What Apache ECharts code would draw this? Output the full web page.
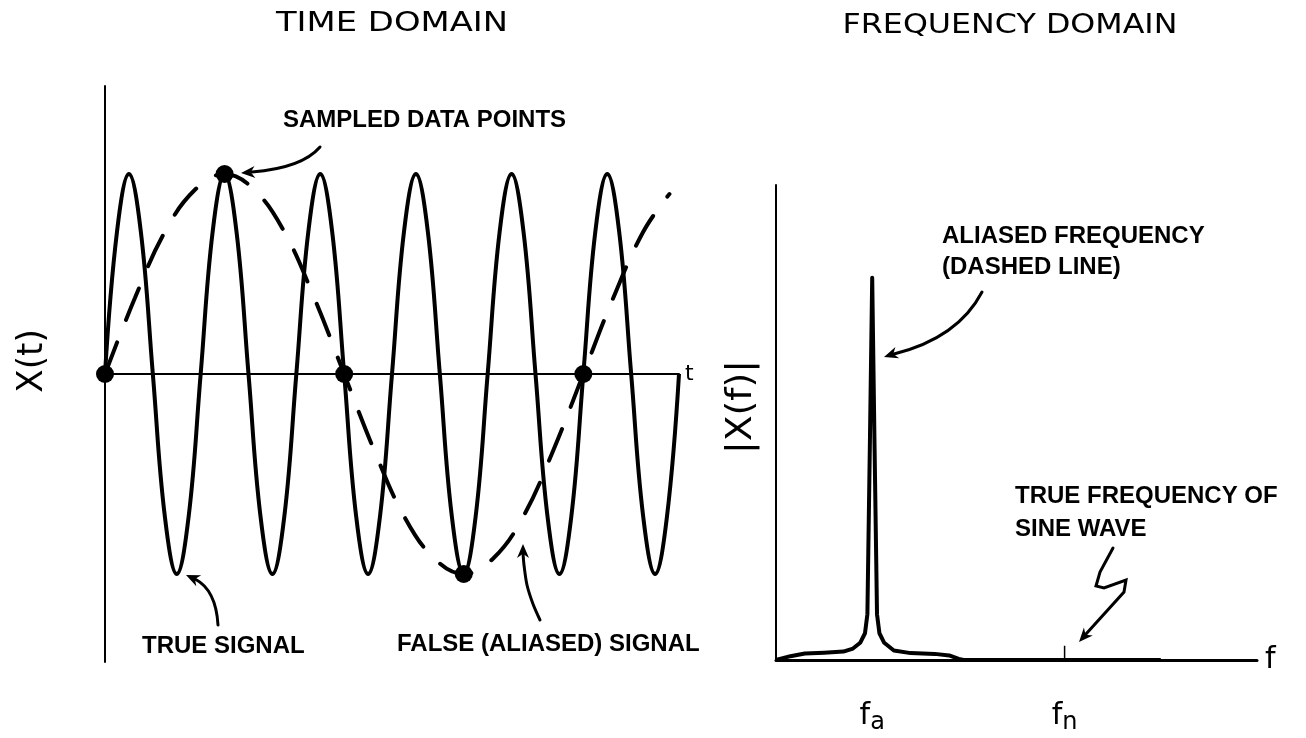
<!DOCTYPE html>
<html><head><meta charset="utf-8">
<script src="https://cdn.jsdelivr.net/npm/echarts@6/dist/echarts.min.js"></script>
<style>html,body{margin:0;padding:0;background:#fff}#c{width:1306px;height:738px}</style>
</head><body><div id="c"></div>
<script>
// ---- Time domain: true signal (time in true-signal periods) ----
const trueT = [0,0.125,0.25,0.375,0.5,0.625,0.75,0.875,1,1.125,1.25,1.375,1.5,1.625,1.75,1.875,2,2.125,2.25,2.375,2.5,2.625,2.75,2.875,3,3.125,3.25,3.375,3.5,3.625,3.75,3.875,4,4.125,4.25,4.375,4.5,4.625,4.75,4.875,5,5.125,5.25,5.375,5.5,5.625,5.75,5.875,6];
const trueX = [0,0.71,1,0.71,0,-0.71,-1,-0.71,0,0.71,1,0.71,0,-0.71,-1,-0.71,0,0.71,1,0.71,0,-0.71,-1,-0.71,0,0.71,1,0.71,0,-0.71,-1,-0.71,0,0.71,1,0.71,0,-0.71,-1,-0.71,0,0.71,1,0.71,0,-0.71,-1,-0.71,0];
// sampled data points
const sampleT = [0,1.25,2.5,3.75,5];
const sampleX = [0,1,0,-1,0];
// false (aliased) signal
const aliasT = [0,0.3125,0.625,0.9375,1.25,1.5625,1.875,2.1875,2.5,2.8125,3.125,3.4375,3.75,4.0625,4.375,4.6875,5,5.3125,5.625,5.9];
const aliasX = [0,0.38,0.71,0.92,1,0.92,0.71,0.38,0,-0.38,-0.71,-0.92,-1,-0.92,-0.71,-0.38,0,0.38,0.71,0.9];
// ---- Frequency domain spectrum ----
const freq = [0,0.3,0.6,1.0,1.4,1.6,1.75,1.85,1.9,1.95,2.0,2.05,2.1,2.15,2.25,2.45,2.8,3.3,3.6,3.8,3.9,8.0];
const mag  = [0,0.01,0.017,0.019,0.022,0.03,0.045,0.07,0.12,0.55,1.0,0.55,0.12,0.07,0.045,0.025,0.018,0.016,0.012,0.003,0,0];
const freqMarks = [2,6];
const freqMarkSubs = ['a','n'];
const trueFreq = 6;
const trueFreqTick = 0.037;
// ---- texts ----
const titleTime = 'TIME DOMAIN';
const titleFreq = 'FREQUENCY DOMAIN';
const yNameTime = 'X(t)';
const yNameFreq = '|X(f)|';
const noteSampled = 'SAMPLED DATA POINTS';
const noteTrue = 'TRUE SIGNAL';
const noteFalse = 'FALSE (ALIASED) SIGNAL';
const noteAliased = ['ALIASED FREQUENCY','(DASHED LINE)'];
const noteTrueFreq = ['TRUE FREQUENCY OF','SINE WAVE'];

const zip = (a,b)=>a.map((v,i)=>[v,b[i]]);
const THIN = "'DejaVu Sans', sans-serif";
const BOLD = "bold 24px 'Liberation Sans', Arial, sans-serif";

function arrowHead(tip, from, len, w){
  len = len||14; w = w||6;
  const dx = tip[0]-from[0], dy = tip[1]-from[1];
  const L = Math.hypot(dx,dy); const ux=dx/L, uy=dy/L; const nx=-uy, ny=ux;
  const bx = tip[0]-ux*len, by = tip[1]-uy*len;
  return {type:'polygon', shape:{points:[tip,[bx+nx*w,by+ny*w],[tip[0]-ux*len*0.7,tip[1]-uy*len*0.7],[bx-nx*w,by-ny*w]]}, style:{fill:'#000'}, z:10};
}
function txt(text,x,y,font,align,sx){
  return {type:'text', x:x, y:y, scaleX:sx||1, style:{text:text, font:font, fill:'#000', textAlign:align||'left', textVerticalAlign:'middle'}, z:10};
}
const LS = {stroke:'#000', lineWidth:3, fill:null, lineCap:'round'};

const chart = echarts.init(document.getElementById('c'), null, {renderer:'canvas'});
chart.setOption({
  backgroundColor:'#fff',
  animation:false,
  grid:[{left:105, top:86, width:574, height:576, outerBoundsMode:'none', containLabel:false},
        {left:776, top:185, width:481, height:475, outerBoundsMode:'none', containLabel:false}],
  xAxis:[
    {gridIndex:0, type:'value', min:0, max:6,
     axisLine:{show:true, onZero:true, lineStyle:{color:'#000', width:2}},
     axisTick:{show:false}, axisLabel:{show:false}, splitLine:{show:false},
     name:'t', nameLocation:'end', nameGap:6,
     nameTextStyle:{color:'#000', fontFamily:'DejaVu Sans', fontWeight:'normal', fontSize:22}},
    {gridIndex:1, type:'value', min:0, max:10,
     axisLine:{show:true, lineStyle:{color:'#000', width:3}},
     axisTick:{show:false}, splitLine:{show:false},
     axisLabel:{show:true, customValues:freqMarks, margin:37,
       formatter:(v)=>'{f|f}{s|'+freqMarkSubs[freqMarks.indexOf(v)]+'}',
       rich:{f:{fontFamily:'DejaVu Sans', fontWeight:'normal', fontSize:30, color:'#000'},
             s:{fontFamily:'DejaVu Sans', fontWeight:'normal', fontSize:24, color:'#000', verticalAlign:'bottom', padding:[14,0,0,0]}}},
     name:'f', nameLocation:'end', nameGap:8,
     nameTextStyle:{color:'#000', fontFamily:'DejaVu Sans', fontWeight:'normal', fontSize:30}}
  ],
  yAxis:[
    {gridIndex:0, type:'value', min:-1.44, max:1.44,
     axisLine:{show:true, lineStyle:{color:'#000', width:2}},
     axisTick:{show:false}, axisLabel:{show:false}, splitLine:{show:false}},
    {gridIndex:1, type:'value', min:0, max:1.243,
     axisLine:{show:true, lineStyle:{color:'#000', width:2}},
     axisTick:{show:false}, axisLabel:{show:false}, splitLine:{show:false}}
  ],
  series:[
    {type:'line', xAxisIndex:0, yAxisIndex:0, data:zip(trueT,trueX), smooth:0.4, showSymbol:false,
     lineStyle:{color:'#000', width:4}},
    {type:'line', xAxisIndex:0, yAxisIndex:0, data:zip(aliasT,aliasX), smooth:0.4, showSymbol:false,
     lineStyle:{color:'#000', width:4, type:[34,24], cap:'round'}},
    {type:'scatter', xAxisIndex:0, yAxisIndex:0, data:zip(sampleT,sampleX), symbolSize:18,
     itemStyle:{color:'#000', opacity:1}, z:5},
    {type:'line', xAxisIndex:1, yAxisIndex:1, data:zip(freq,mag), showSymbol:false,
     lineStyle:{color:'#000', width:4, join:'round'}},
    {type:'line', xAxisIndex:1, yAxisIndex:1, data:[[trueFreq,0],[trueFreq,trueFreqTick]], showSymbol:false,
     lineStyle:{color:'#000', width:1.5}}
  ],
  graphic:[
    txt(titleTime, 392, 24, "normal 26px "+THIN, 'center', 1.3),
    txt(titleFreq, 1010, 26, "normal 26px "+THIN, 'center', 1.22),
    {type:'text', x:33, y:361, rotation:Math.PI/2, scaleX:0.95, style:{text:yNameTime, font:"normal 36px "+THIN, fill:'#000', textAlign:'center', textVerticalAlign:'middle'}},
    {type:'text', x:742, y:407, rotation:Math.PI/2, scaleX:1.05, style:{text:yNameFreq, font:"normal 36px "+THIN, fill:'#000', textAlign:'center', textVerticalAlign:'middle'}},
    txt(noteSampled, 283, 120, BOLD),
    txt(noteTrue, 142, 646, BOLD),
    txt(noteFalse, 397, 644, BOLD),
    txt(noteAliased[0], 942, 236, BOLD),
    txt(noteAliased[1], 942, 267, BOLD),
    txt(noteTrueFreq[0], 1015, 496, BOLD),
    txt(noteTrueFreq[1], 1015, 529, BOLD),
    // arrows
    {type:'bezierCurve', shape:{x1:320,y1:147,x2:252,y2:172,cpx1:302,cpy1:168}, style:LS},
    arrowHead([241,173],[254,172]),
    {type:'bezierCurve', shape:{x1:218,y1:625,x2:195,y2:579,cpx1:216,cpy1:590}, style:LS},
    arrowHead([186,575],[197,580]),
    {type:'polyline', shape:{points:[[540,620],[533,604],[527,585],[524,565],[523,553]], smooth:0.3}, style:LS},
    arrowHead([523,544],[523,556]),
    {type:'bezierCurve', shape:{x1:982,y1:292,x2:894,y2:354,cpx1:958,cpy1:338}, style:LS},
    arrowHead([884,357],[896,353]),
    {type:'polyline', shape:{points:[[1113,548],[1100,572],[1096,586],[1104,588],[1126,580],[1124,592],[1086,634]]}, style:LS},
    arrowHead([1079,642],[1088,632])
  ]
});
</script>
</body></html>
